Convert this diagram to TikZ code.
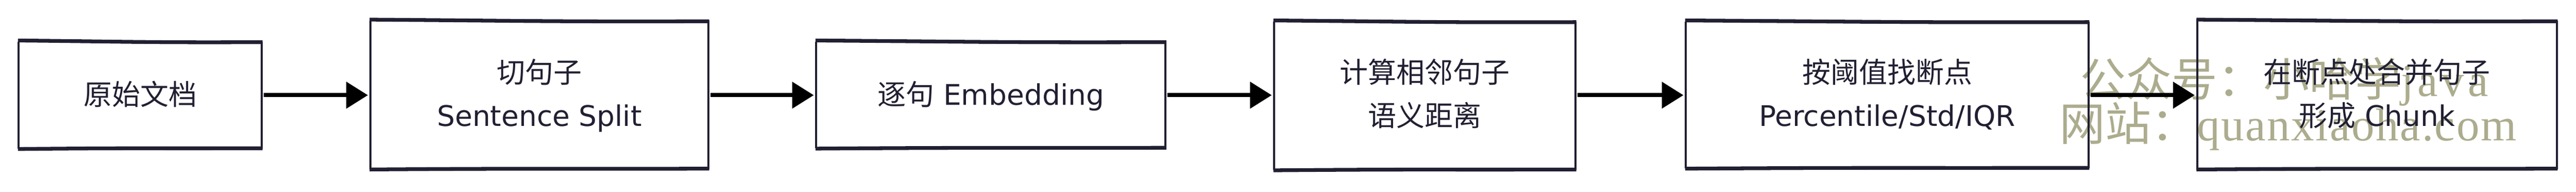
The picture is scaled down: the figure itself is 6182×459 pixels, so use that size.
\documentclass[tikz,border=0pt]{standalone}
\usepackage{fontspec}
\setmainfont{DejaVu Sans}
\newfontfamily\cjk{Noto Sans CJK SC}
\newfontfamily\wmlatin{Liberation Serif}
\usetikzlibrary{arrows.meta}
\definecolor{ink}{RGB}{33,32,50}
\definecolor{wmark}{RGB}{172,172,142}
\tikzset{
  boxn/.style={rectangle, draw=none, inner sep=0pt, outer sep=0pt},
  hedge/.style={draw=ink, line width=9pt},
  vedge/.style={draw=ink, line width=5pt},
  lbl/.style={anchor=base, text=ink, inner sep=0pt, font=\fontsize{68pt}{80pt}\selectfont},
  wm/.style={anchor=base west, text=wmark, inner sep=0pt, font=\fontsize{110pt}{120pt}\selectfont},
  arr/.style={draw=black, line width=10pt, -{Triangle[length=52pt,width=62pt]}}
}
\newcommand{\roughbox}[1]{%
  \draw[hedge] ([xshift=-2pt,yshift=3pt]#1.north west) .. controls ([xshift=-3pt]#1.north) and ([xshift=3pt,yshift=-2pt]#1.north) .. ([xshift=2pt,yshift=-1pt]#1.north east);
  \draw[hedge] ([xshift=-2pt,yshift=-1pt]#1.south west) .. controls ([xshift=-3pt,yshift=2pt]#1.south) and ([xshift=3pt]#1.south) .. ([xshift=2pt,yshift=1pt]#1.south east);
  \draw[vedge] (#1.north west) -- (#1.south west);
  \draw[vedge] (#1.north east) -- (#1.south east);
}
\begin{document}
\begin{tikzpicture}[x=1pt,y=-1pt]
\useasboundingbox (0,0) rectangle (6182,459);
% watermark
\node[wm] (wm1) at (4992,230) {{\cjk 公众号：小哈学}{\wmlatin\addfontfeature{LetterSpace=8}java}};
\node[wm] (wm2) at (4942,337) {{\cjk 网站：}{\wmlatin\addfontfeature{LetterSpace=3}quanxiaoha.com}};
% boxes
\node[boxn, minimum width=583pt, minimum height=256pt] (b1) at (336.5,228) {};
\node[boxn, minimum width=811pt, minimum height=355pt] (b2) at (1294.5,227.5) {};
\node[boxn, minimum width=838pt, minimum height=255pt] (b3) at (2378,227.5) {};
\node[boxn, minimum width=723pt, minimum height=355pt] (b4) at (3419.5,229.5) {};
\node[boxn, minimum width=966pt, minimum height=351pt] (b5) at (4529,227.5) {};
\node[boxn, minimum width=863pt, minimum height=355pt] (b6) at (5704.5,227.5) {};
\roughbox{b1}
\roughbox{b2}
\roughbox{b3}
\roughbox{b4}
\roughbox{b5}
\roughbox{b6}
% texts
\node[lbl] (t1) at (336.5,251) {\cjk 原始文档};
\node[lbl] (t2a) at (1294.5,198) {\cjk 切句子};
\node[lbl] (t2b) at (1294.5,302) {Sentence Split};
\node[lbl] (t3) at (2378,251) {{\cjk 逐句} Embedding};
\node[lbl] (t4a) at (3419.5,198) {\cjk 计算相邻句子};
\node[lbl] (t4b) at (3419.5,302) {\cjk 语义距离};
\node[lbl] (t5a) at (4529,198) {\cjk 按阈值找断点};
\node[lbl] (t5b) at (4529,302) {Percentile/Std/IQR};
\node[lbl] (t6a) at (5704.5,198) {\cjk 在断点处合并句子};
\node[lbl] (t6b) at (5704.5,302) {{\cjk 形成} Chunk};
% arrows
\draw[arr] ([xshift=5pt]b1.east |- 0,228) -- ([xshift=-6pt]b2.west |- 0,228);
\draw[arr] ([xshift=5pt]b2.east |- 0,228) -- ([xshift=-6pt]b3.west |- 0,228);
\draw[arr] ([xshift=5pt]b3.east |- 0,228) -- ([xshift=-6pt]b4.west |- 0,228);
\draw[arr] ([xshift=5pt]b4.east |- 0,228) -- ([xshift=-6pt]b5.west |- 0,228);
\draw[arr] ([xshift=5pt]b5.east |- 0,228) -- ([xshift=-6pt]b6.west |- 0,228);
\end{tikzpicture}
\end{document}
